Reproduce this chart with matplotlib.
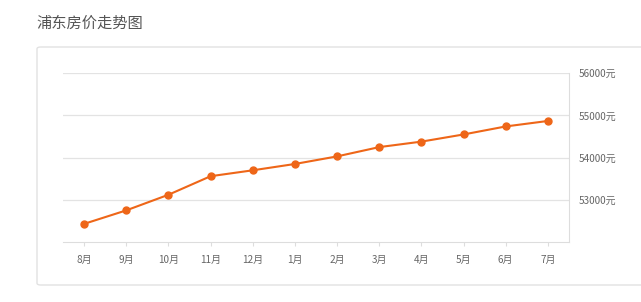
import matplotlib
matplotlib.use('Agg')
import matplotlib.pyplot as plt
from matplotlib.patches import FancyBboxPatch

plt.rcParams['font.family'] = ['Noto Sans CJK SC', 'DejaVu Sans']

# 数据
months = ['8月', '9月', '10月', '11月', '12月', '1月', '2月', '3月', '4月', '5月', '6月', '7月']
prices = [52430, 52750, 53120, 53560, 53700, 53850, 54030, 54250, 54380, 54550, 54740, 54870]
yticks = [53000, 54000, 55000, 56000]
ytick_labels = ['53000元', '54000元', '55000元', '56000元']

W, H = 641, 302
fig = plt.figure(figsize=(W / 100, H / 100), dpi=100)
fig.patch.set_facecolor('white')

# 卡片背景
card = FancyBboxPatch((37 / W, 1 - 285 / H), 640 / W, 238 / H,
                      boxstyle='round,pad=0,rounding_size=0.006',
                      transform=fig.transFigure, facecolor='white',
                      edgecolor='#e2e2e2', linewidth=1.0, zorder=-5)
fig.patches.append(card)

fig.text(36 / W, 1 - 23 / H, '浦东房价走势图', fontsize=11, color='#555555',
         va='center', ha='left')

ax = fig.add_axes([63 / W, 1 - 242 / H, 506 / W, (242 - 73.3) / H])
ax.set_zorder(2)
ax.set_facecolor('none')
x = list(range(len(months)))
ax.plot(x, prices, color='#ee6618', linewidth=1.5, marker='o',
        markersize=5, zorder=3)

ax.set_xlim(-0.5, len(months) - 0.5)
ax.set_ylim(52000, 56000)
ax.set_xticks(x)
ax.set_xticklabels(months, fontsize=7.2, color='#666666')
ax.yaxis.tick_right()
ax.set_yticks(yticks)
ax.set_yticklabels(ytick_labels, fontsize=7.2, color='#666666')
ax.tick_params(axis='y', length=0, pad=7)
ax.tick_params(axis='x', length=3, color='#dddddd', pad=6)
ax.grid(axis='y', color='#e3e3e3', linewidth=0.9)
ax.set_axisbelow(True)

for s in ['top', 'left']:
    ax.spines[s].set_visible(False)
ax.spines['bottom'].set_color('#dddddd')
ax.spines['right'].set_color('#dddddd')

fig.savefig('out.png', dpi=100)
